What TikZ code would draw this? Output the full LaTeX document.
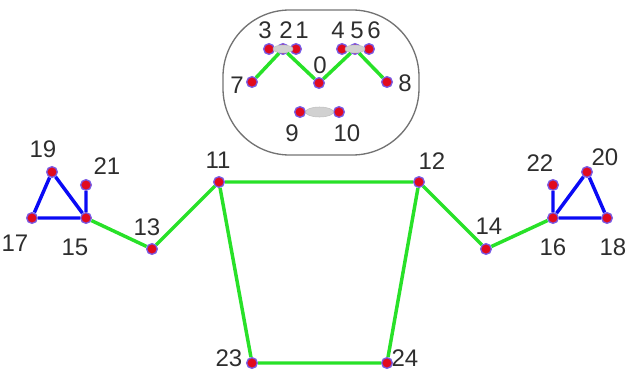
\documentclass[tikz,border=0pt]{standalone}
\usepackage{fontspec}
\setmainfont{Liberation Sans}
\usetikzlibrary{positioning}
\definecolor{PoseGreen}{RGB}{40,225,40}
\definecolor{PoseBlue}{RGB}{10,10,245}
\definecolor{PoseRed}{RGB}{225,10,30}
\definecolor{PoseHalo}{RGB}{120,90,230}
\tikzstyle{kp}   = [circle, fill=PoseRed, draw=PoseHalo, line width=1pt,
                    inner sep=0pt, minimum size=8pt]
\tikzstyle{idx}  = [font=\fontsize{18}{21}\selectfont, text=black!82, inner sep=0pt]
\tikzstyle{bone} = [draw=PoseGreen, line width=2.6pt]
\tikzstyle{hand} = [draw=PoseBlue, line width=2.6pt]
\tikzstyle{blob} = [fill=black!18, draw=black!25, line width=0.4pt]

\begin{document}
\begin{tikzpicture}[x=0.75pt, y=-0.75pt]
  \useasboundingbox (0,0) rectangle (626,375);
  % head outline
  \draw[black!55, line width=1pt, rounded corners=50pt] (223,10) rectangle (419,155);

  % face keypoints
  \node[kp] (p0)  at (319,83) {};
  \node[kp] (p1)  at (296,49) {};
  \node[kp] (p2)  at (283,49) {};
  \node[kp] (p3)  at (269,49) {};
  \node[kp] (p4)  at (342,49) {};
  \node[kp] (p5)  at (355,49) {};
  \node[kp] (p6)  at (369,49) {};
  \node[kp] (p7)  at (252,82) {};
  \node[kp] (p8)  at (387,82) {};
  \node[kp] (p9)  at (300,112) {};
  \node[kp] (p10) at (339,112) {};
  % eyes and mouth
  \fill[blob] (283,49) ellipse (10 and 4);
  \fill[blob] (355,49) ellipse (10 and 4);
  \fill[blob] (319.5,112) ellipse (14 and 5);

  % body keypoints
  \node[kp] (p11) at (219,182) {};
  \node[kp] (p12) at (419,182) {};
  \node[kp] (p13) at (152,249) {};
  \node[kp] (p14) at (486,249) {};
  \node[kp] (p15) at (86,218) {};
  \node[kp] (p16) at (553,218) {};
  \node[kp] (p17) at (32,218) {};
  \node[kp] (p18) at (607,218) {};
  \node[kp] (p19) at (52,172) {};
  \node[kp] (p20) at (587,172) {};
  \node[kp] (p21) at (86,185) {};
  \node[kp] (p22) at (553,185) {};
  \node[kp] (p23) at (252,363) {};
  \node[kp] (p24) at (387,363) {};

  % connections
  \draw[bone] (p7) -- (p2) -- (p0) -- (p5) -- (p8);
  \draw[bone] (p11) -- (p12) -- (p24) -- (p23) -- (p11);
  \draw[bone] (p11) -- (p13) -- (p15);
  \draw[bone] (p12) -- (p14) -- (p16);
  \draw[hand] (p15) -- (p17) -- (p19) -- (p15) -- (p21);
  \draw[hand] (p16) -- (p18) -- (p20) -- (p16) -- (p22);

  % indices
  \node[idx] (t0)  at (320,65)  {0};
  \node[idx] (t1)  at (302,30)  {1};
  \node[idx] (t2)  at (286,30)  {2};
  \node[idx] (t3)  at (265,30)  {3};
  \node[idx] (t4)  at (338,30)  {4};
  \node[idx] (t5)  at (357,30)  {5};
  \node[idx] (t6)  at (374,30)  {6};
  \node[idx] (t7)  at (237,85)  {7};
  \node[idx] (t8)  at (405,83)  {8};
  \node[idx] (t9)  at (292,133) {9};
  \node[idx] (t10) at (347,133) {10};
  \node[idx] (t11) at (218,160) {11};
  \node[idx] (t12) at (432,161) {12};
  \node[idx] (t13) at (147,227) {13};
  \node[idx] (t14) at (489,226) {14};
  \node[idx] (t15) at (75,247)  {15};
  \node[idx] (t16) at (553,247) {16};
  \node[idx] (t17) at (15,243)  {17};
  \node[idx] (t18) at (613,247) {18};
  \node[idx] (t19) at (43,149)  {19};
  \node[idx] (t20) at (605,157) {20};
  \node[idx] (t21) at (107,166) {21};
  \node[idx] (t22) at (540,163) {22};
  \node[idx] (t23) at (229,358) {23};
  \node[idx] (t24) at (405,358) {24};
\end{tikzpicture}
\end{document}
